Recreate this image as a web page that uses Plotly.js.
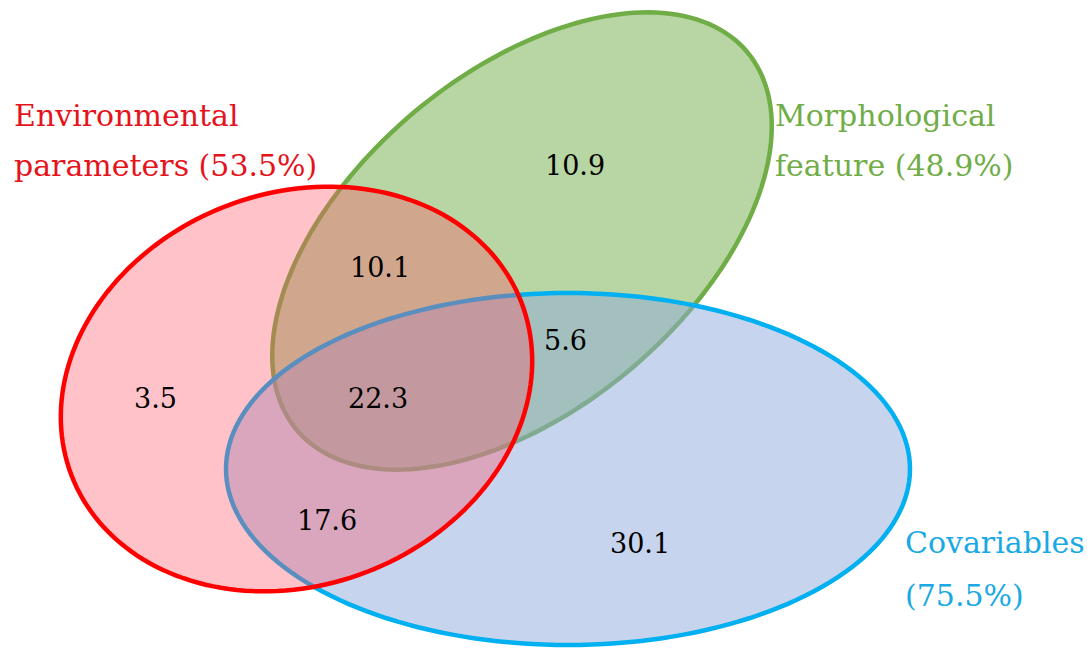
<!DOCTYPE html>
<html>
<head>
<meta charset="utf-8">
<script src="https://cdn.plot.ly/plotly-3.0.1.min.js"></script>
<style>html,body{margin:0;padding:0;background:#fff;}#chart{width:1087px;height:650px;}</style>
</head>
<body>
<div id="chart"></div>
<script>
// ---- data ----
var setNames = ["Environmental\nparameters", "Morphological\nfeature", "Covariables"];
var setPercents = [53.5, 48.9, 75.5];
var regionNames = ["Env only", "Env+Morph", "All three", "Env+Cov", "Morph only", "Morph+Cov", "Cov only"];
var regionValues = [3.5, 10.1, 22.3, 17.6, 10.9, 5.6, 30.1];

// ---- geometry / style (pixel space) ----
var ellipses = [ // drawn bottom to top: morph, cov, env
  {cx: 522, cy: 241, a: 294, b: 168, rot: 40, line: "#70ad47", fill: "rgba(112,173,71,0.5)"},
  {cx: 568, cy: 469, a: 342, b: 176, rot: 0, line: "#00b0f0", fill: "rgba(143,170,220,0.5)"},
  {cx: 296.5, cy: 389, a: 241, b: 196, rot: 21, line: "#ff0000", fill: "rgba(255,80,100,0.35)"}
];
var regionPos = [[155,398],[380,267],[378,398],[327,520],[575,165],[565,340],[640,543]];
// [x, y of first line, y of second line, colour]
var setLabelPos = [[12,115,165,"#e5131b"],[773,115,165,"#70ad47"],[903,542,595,"#19a9e3"]];

function ellipsePath(e) {
  var th = e.rot * Math.PI / 180, n = 180, d = "";
  for (var i = 0; i <= n; i++) {
    var t = 2 * Math.PI * i / n;
    var x = e.cx + e.a * Math.cos(t) * Math.cos(th) + e.b * Math.sin(t) * Math.sin(th);
    var y = e.cy - e.a * Math.cos(t) * Math.sin(th) + e.b * Math.sin(t) * Math.cos(th);
    d += (i === 0 ? "M" : "L") + x.toFixed(2) + "," + y.toFixed(2);
  }
  return d + "Z";
}

var shapes = ellipses.map(function (e) {
  return {type: "path", xref: "x", yref: "y", path: ellipsePath(e),
    fillcolor: e.fill, line: {color: e.line, width: 4.5}, layer: "above"};
});

var font = "DejaVu Serif, Liberation Serif, serif";
var annotations = [];
regionValues.forEach(function (v, i) {
  annotations.push({x: regionPos[i][0], y: regionPos[i][1], xref: "x", yref: "y",
    text: v.toFixed(1), showarrow: false, xanchor: "center", yanchor: "middle",
    font: {family: font, size: 27, color: "#000"}});
});
[0, 1, 2].forEach(function (i) {
  var parts = setNames[i].split("\n");
  var pct = "(" + setPercents[i].toFixed(1) + "%)";
  var lines = parts.length > 1 ? [parts[0], parts[1] + " " + pct] : [parts[0], pct];
  lines.forEach(function (ln, k) {
    annotations.push({x: setLabelPos[i][0], y: setLabelPos[i][1 + k], xref: "x", yref: "y",
      text: ln, showarrow: false, xanchor: "left", yanchor: "middle", align: "left",
      font: {family: font, size: 30, color: setLabelPos[i][3]}});
  });
});

var layout = {
  width: 1087, height: 650,
  margin: {l: 0, r: 0, t: 0, b: 0},
  paper_bgcolor: "#fff", plot_bgcolor: "#fff",
  xaxis: {range: [0, 1087], visible: false, fixedrange: true},
  yaxis: {range: [650, 0], visible: false, fixedrange: true},
  shapes: shapes,
  annotations: annotations,
  showlegend: false
};
Plotly.newPlot("chart", [], layout, {staticPlot: true, displayModeBar: false});
</script>
</body>
</html>
